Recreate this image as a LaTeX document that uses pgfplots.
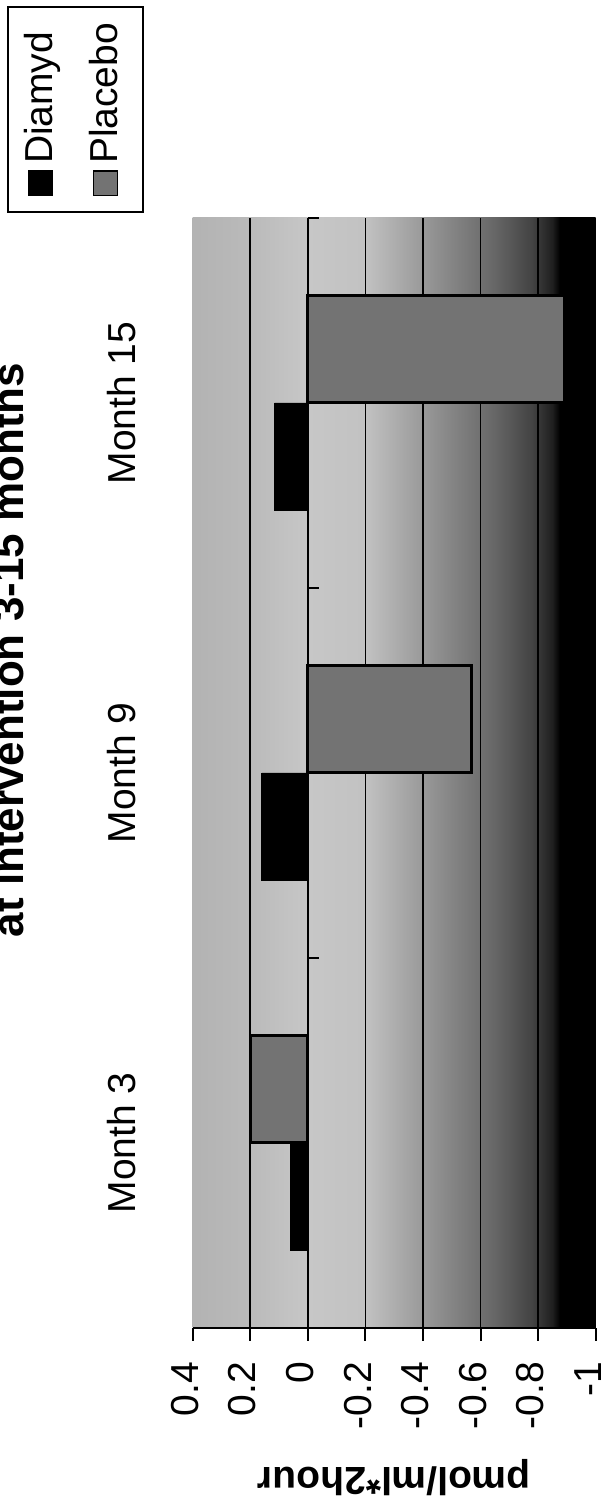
\documentclass[border=0pt]{standalone}
\usepackage{fontspec}
\setmainfont{Liberation Sans}
\usepackage{pgfplots}
\usepackage{pgfplotstable}
\pgfplotsset{compat=1.18}

\newcommand\fs{\fontsize{19.5}{23}\selectfont}
% legend swatch: filled square with a thin black frame
\newcommand\swatch[1]{{\setlength\fboxsep{0pt}\setlength\fboxrule{0.6pt}%
  \fcolorbox{black}{#1}{\rule{0pt}{11.5pt}\rule{11.5pt}{0pt}}}}

% plot-area background: mid grey, lightest just below zero, black towards -1
\pgfdeclarehorizontalshading{plotbg}{100bp}{%
  color(0bp)=(black!30); color(25bp)=(black!30); color(32.14bp)=(black!27);
  color(39.29bp)=(black!22); color(46.43bp)=(black!24); color(51.79bp)=(black!36);
  color(57.14bp)=(black!48); color(62.5bp)=(black!60); color(67.14bp)=(black!74);
  color(69.64bp)=(black!88); color(70.54bp)=(black); color(100bp)=(black)}

% change from baseline, pmol/ml*2hour
\pgfplotstableread{
pos diamyd placebo
0   0.06   0.20
1   0.16  -0.57
2   0.115 -0.89
}\cpeptide

\begin{document}
\begin{tikzpicture}
\begin{axis}[
  at={(197.1pt,364.5pt)}, anchor=center,
  scale only axis, width=201.5pt, height=555pt,
  xbar, bar width=0.29,
  x dir=reverse, xmin=-1, xmax=0.4, ymin=-0.5, ymax=2.5,
  axis background/.style={shade, shading=plotbg},
  axis x line*=bottom, axis y line*=left,
  y axis line style={draw=none},
  x axis line style={line width=1pt},
  xtick={-1,-0.8,-0.6,-0.4,-0.2,0,0.2,0.4},
  /pgf/number format/assume math mode=true,
  tick align=outside,
  major tick length=6.5pt,
  xtick style={line width=1pt, black},
  extra x ticks={-0.8,-0.6,-0.4,-0.2,0,0.2},
  extra x tick labels={},
  extra x tick style={grid=major, major tick length=0pt},
  grid style={black, line width=0.8pt},
  xticklabel style={rotate=90, anchor=east, text depth=8pt, font=\fs},
  xticklabel shift=7pt,
  ytick={0,1,2}, yticklabels={Month 3, Month 9, Month 15},
  ytick style={draw=none},
  yticklabel style={rotate=90, anchor=south, font=\fs},
  yticklabel shift=18.5pt,
  xlabel={\bfseries pmol/ml*2hour},
  xlabel style={at={(axis description cs:0.5,-0.1351)}, anchor=center, rotate=180, font=\fs},
]
\addplot[fill=black, draw=black, bar shift=-0.145] table[x=diamyd, y=pos] {\cpeptide};
\addplot[fill=black!55, draw=black, line width=1.5pt, bar shift=0.145] table[x=placebo, y=pos] {\cpeptide};
% category ticks on the zero line
\pgfplotsinvokeforeach{-0.5,0.5,1.5,2.5}{\draw[line width=1pt] (axis cs:0,#1) -- ++(5.5pt,0pt);}
\end{axis}
% legend
\node[rotate=90, draw=black, line width=0.8pt, font=\fs, inner xsep=8pt, inner ysep=6pt]
  at (37.75pt,696.25pt)
  {\begin{tabular}{@{}l@{}}\swatch{black}\,Diamyd\\[9.5pt]\swatch{black!55}\,Placebo\end{tabular}};
% title (its upper part lies beyond the page edge)
\node[rotate=90, anchor=base, font=\bfseries\fontsize{22}{26}\selectfont] at (12pt,426pt) {at intervention 3-15 months};
\pgfresetboundingbox
\path[use as bounding box] (0pt,0pt) rectangle (301.5pt,751pt);
\end{tikzpicture}
\end{document}
